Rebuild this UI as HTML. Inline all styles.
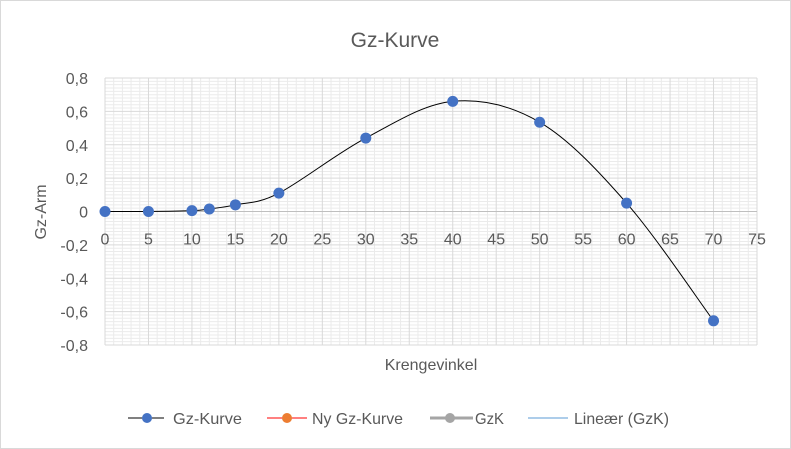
<!DOCTYPE html><html><head><meta charset="utf-8"><style>body{margin:0;background:#fff}svg{display:block;font-family:"Liberation Sans",sans-serif}</style></head><body>
<svg id="s" width="791" height="449" xmlns="http://www.w3.org/2000/svg">
<rect x="0.5" y="0.5" width="790" height="448" fill="#fff" stroke="#d9d9d9"/>
<text x="395" y="47" font-size="21" fill="#595959" text-anchor="middle">Gz-Kurve</text>
<g id="grid"></g>
<text transform="translate(46,212) rotate(-90)" font-size="16" fill="#595959" text-anchor="middle">Gz-Arm</text>
<text x="431" y="370" font-size="16" fill="#595959" text-anchor="middle">Krengevinkel</text>
<path id="curve" fill="none" stroke="#000" stroke-width="1"/>
<g id="pts" fill="#4472c4"></g>
<g font-size="16" fill="#595959">
<line x1="128" y1="418" x2="164" y2="418" stroke="#000"/><circle cx="147" cy="418" r="5" fill="#4472c4"/><text x="173" y="424" textLength="69" lengthAdjust="spacingAndGlyphs">Gz-Kurve</text>
<line x1="267" y1="418" x2="307" y2="418" stroke="#f00"/><circle cx="287" cy="418" r="5" fill="#ed7d31"/><text x="312" y="424" textLength="91" lengthAdjust="spacingAndGlyphs">Ny Gz-Kurve</text>
<line x1="430" y1="418" x2="473" y2="418" stroke="#a5a5a5" stroke-width="3"/><circle cx="450" cy="418" r="5" fill="#a5a5a5"/><text x="475" y="424" textLength="29" lengthAdjust="spacingAndGlyphs">GzK</text>
<line x1="528" y1="418" x2="568" y2="418" stroke="#5b9bd5"/><text x="574" y="424" textLength="95" lengthAdjust="spacingAndGlyphs">Lineær (GzK)</text>
</g>
</svg>
<script>
var X0=105,X1=757,Y0=78,Y1=345;
function X(v){return X0+(X1-X0)*v/75}function Y(v){return Y1-(Y1-Y0)*(v+0.8)/1.6}
var g='';
for(var i=0;i<=75;i++){if(i%5)g+='<line x1="'+X(i)+'" y1="'+Y0+'" x2="'+X(i)+'" y2="'+Y1+'" stroke="#ebebeb"/>';}
for(var j=-40;j<=40;j++){if(j%10){var v=j*0.02;g+='<line x1="'+X0+'" y1="'+Y(v)+'" x2="'+X1+'" y2="'+Y(v)+'" stroke="#ebebeb"/>';}}
for(var i=0;i<=75;i+=5){g+='<line x1="'+X(i)+'" y1="'+Y0+'" x2="'+X(i)+'" y2="'+Y1+'" stroke="#d9d9d9"/>';
g+='<text x="'+X(i)+'" y="'+(Y(0)+33)+'" font-size="16" fill="#595959" text-anchor="middle">'+i+'</text>';}
for(var j=-4;j<=4;j++){var v=j*0.2;g+='<line x1="'+X0+'" y1="'+Y(v)+'" x2="'+X1+'" y2="'+Y(v)+'" stroke="#d9d9d9"/>';
g+='<text x="88" y="'+(Y(v)+6)+'" font-size="16" fill="#595959" text-anchor="end">'+(j==0?'0':v.toFixed(1).replace('.',','))+'</text>';}
g+='<line x1="'+X0+'" y1="'+Y(0)+'" x2="'+X1+'" y2="'+Y(0)+'" stroke="#bfbfbf"/>';
document.getElementById('grid').innerHTML=g;
var P=[[0,0],[5,0],[10,0.005],[12,0.015],[15,0.04],[20,0.11],[30,0.44],[40,0.66],[50,0.535],[60,0.05],[70,-0.655]].map(function(p){return [X(p[0]),Y(p[1])]});
var d='M'+P[0][0]+','+P[0][1],t=0.5;
for(var k=0;k<P.length-1;k++){var p0=P[k-1]||P[k],p1=P[k],p2=P[k+1],p3=P[k+2]||P[k+1];
var c1=[p1[0]+(p2[0]-p0[0])*t/3,p1[1]+(p2[1]-p0[1])*t/3],c2=[p2[0]-(p3[0]-p1[0])*t/3,p2[1]-(p3[1]-p1[1])*t/3];
d+=' C'+c1+' '+c2+' '+p2;}
document.getElementById('curve').setAttribute('d',d);
document.getElementById('pts').innerHTML=P.map(function(p){return '<circle cx="'+p[0]+'" cy="'+p[1]+'" r="5.5"/>'}).join('');
</script>
</body></html>
